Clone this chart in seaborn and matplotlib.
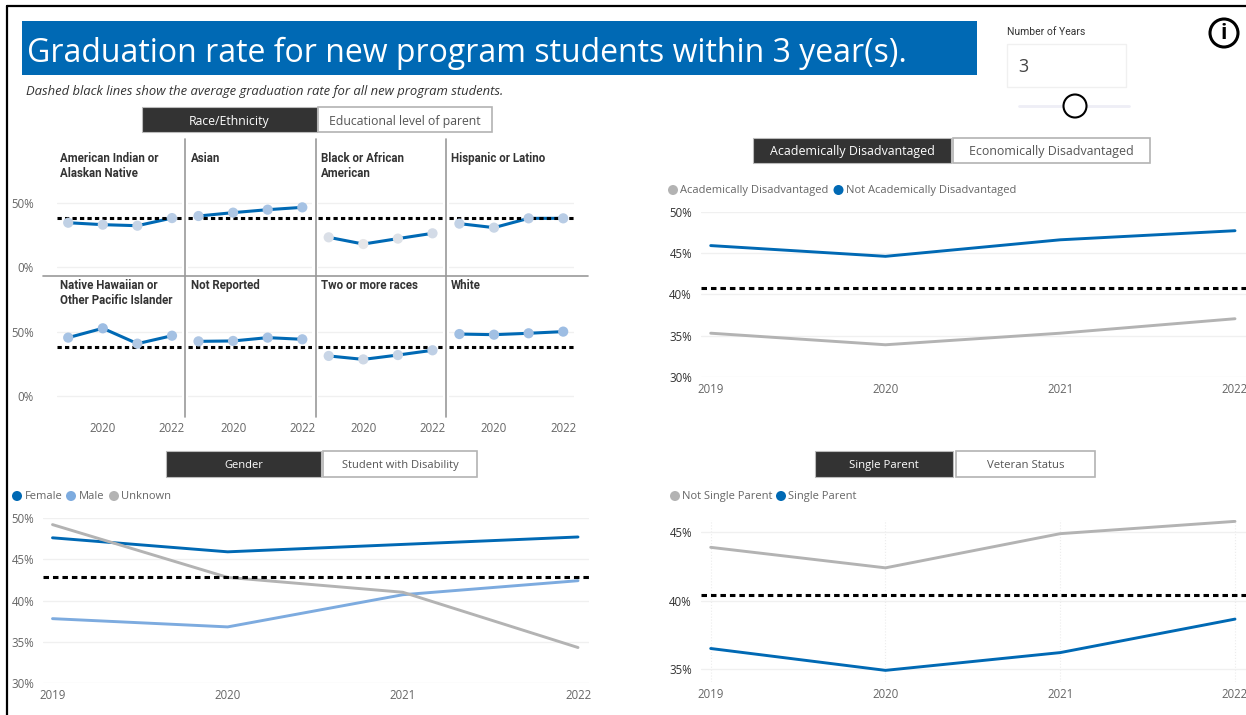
import numpy as np
import pandas as pd
import matplotlib
matplotlib.use("Agg")
import matplotlib.pyplot as plt
from matplotlib.patches import Rectangle, Circle
import seaborn as sns

W, H = 1246, 715

# Data
years = [2019, 2020, 2021, 2022]

race_names = ["American Indian or\nAlaskan Native", "Asian", "Black or African\nAmerican", "Hispanic or Latino",
              "Native Hawaiian or\nOther Pacific Islander", "Not Reported", "Two or more races", "White"]
american_indian = [34.5, 33.0, 32.2, 38.1]
asian = [39.7, 42.3, 44.6, 46.4]
black = [23.2, 18.0, 22.2, 26.3]
hispanic = [33.8, 30.7, 37.9, 37.9]
native_hawaiian = [45.6, 52.9, 40.9, 47.1]
not_reported = [42.7, 43.0, 45.6, 44.3]
two_or_more = [31.3, 28.6, 32.0, 35.7]
white = [48.4, 47.9, 49.0, 50.3]
race_avg = 38.4

not_acad = [45.9, 44.6, 46.6, 47.7]
acad = [35.3, 33.9, 35.3, 37.05]
acad_avg = 40.8

female = [47.6, 45.9, 46.8, 47.7]
male = [37.8, 36.8, 40.7, 42.4]
unknown = [49.2, 42.8, 41.0, 34.3]
gender_avg = 42.8

not_single = [43.9, 42.4, 44.9, 45.8]
single = [36.5, 34.9, 36.2, 38.65]
single_avg = 40.4

BLUE = "#0069b4"
LIGHT = "#7dabdf"
GREY = "#b3b3b3"
DARK = "#333333"
GRID = "#f0f0f0"
TICK = "#666666"

sns.set_theme(style="white")
plt.rcParams['font.family'] = ['Open Sans', 'DejaVu Sans']

fig = plt.figure(figsize=(W / 100, H / 100), dpi=100, facecolor="white")

# background layer in pixel coordinates, for the report furniture
bg = fig.add_axes([0, 0, 1, 1])
bg.set_xlim(0, W)
bg.set_ylim(H, 0)
bg.axis("off")


def add_chart(left, right, top, bottom, x0, x1, y_hi_px, y_lo_px, y_hi, y_lo):
    ax = fig.add_axes([left / W, 1 - bottom / H, (right - left) / W, (bottom - top) / H])
    ax.patch.set_alpha(0)
    per_year = (x1 - x0) / 3
    ax.set_xlim(2019 + (left - x0) / per_year, 2019 + (right - x0) / per_year)
    per_px = (y_hi - y_lo) / (y_lo_px - y_hi_px)
    ax.set_ylim(y_lo - (bottom - y_lo_px) * per_px, y_hi + (y_hi_px - top) * per_px)
    sns.despine(ax=ax, left=True, bottom=True)
    return ax


def tidy(ax, yticks, ycolor=TICK, size=8.3, pad=6.5):
    ax.set_xlabel("")
    ax.set_ylabel("")
    ax.set_xticks(years)
    ax.set_yticks(yticks)
    ax.set_yticklabels([f"{v}%" for v in yticks])
    ax.grid(axis="y", color=GRID, lw=1)
    ax.grid(axis="x", visible=False)
    ax.tick_params(axis="x", length=0, pad=4, labelsize=size, labelcolor=TICK)
    ax.tick_params(axis="y", length=0, pad=pad, labelsize=size, labelcolor=ycolor)


def line_chart(ax, series, palette, avg, yticks, ycolor=TICK):
    rows = [(n, y, v) for n, vals in series.items() for y, v in zip(years, vals)]
    df = pd.DataFrame(rows, columns=["group", "year", "rate"])
    sns.lineplot(data=df, x="year", y="rate", hue="group", palette=palette, lw=2.1,
                 legend=False, ax=ax, errorbar=None)
    ax.axhline(avg, color="black", lw=2.2, linestyle=(0, (1.8, 1.3)), zorder=3)
    tidy(ax, yticks, ycolor)


def button_pair(x0, x1, x2, x3, y0, y1, on, off, size=8.8):
    bg.add_patch(Rectangle((x0, y0), x1 - x0, y1 - y0, fc="#333333", ec="#bbbbbb", lw=0.8))
    bg.add_patch(Rectangle((x2, y0), x3 - x2, y1 - y0, fc="white", ec="#b3b3b3", lw=1.2))
    bg.text((x0 + x1) / 2, (y0 + y1) / 2 + 1.5, on, color="white", ha="center", va="center", fontsize=size)
    bg.text((x2 + x3) / 2, (y0 + y1) / 2 + 1.5, off, color="#555555", ha="center", va="center", fontsize=size)


def legend_row(items, y):
    for x, name, color in items:
        bg.add_patch(Circle((x, y), 5, fc=color, ec="none"))
        bg.text(x + 7.5, y + 0.5, name, color="#666666", ha="left", va="center", fontsize=8.05)


# frame, title banner, note
bg.plot([7, 7], [6, H], color="black", lw=1.6)
bg.plot([7, W], [6, 6], color="black", lw=1.6)
bg.add_patch(Rectangle((22, 21), 955, 54, fc=BLUE, ec="none"))
bg.text(27, 53.5, "Graduation rate for new program students within 3 year(s).", color="white",
        fontsize=23, ha="left", va="center")
bg.text(26, 91, "Dashed black lines show the average graduation rate for all new program students.",
        color="#333333", style="italic", fontsize=9.4, ha="left", va="center")

# number of years slicer and info icon
bg.text(1007, 32, "Number of Years", color="#333333", fontsize=7.5, ha="left", va="center", family="Roboto")
bg.add_patch(Rectangle((1007, 44), 119, 43, fc="white", ec="#f0f0f0", lw=1))
bg.text(1018, 67, "3", color="#444444", fontsize=13, ha="left", va="center")
bg.plot([1019, 1129], [106, 106], color="#eeeef6", lw=2)
bg.add_patch(Circle((1075, 106), 11.5, fc="white", ec="black", lw=1.5, zorder=3))
bg.add_patch(Circle((1224, 33), 14, fc="white", ec="black", lw=2.2))
bg.text(1224, 33.5, "i", color="black", fontsize=15, fontweight="bold", ha="center", va="center")

# buttons
button_pair(142, 317, 318, 492, 107, 132, "Race/Ethnicity", "Educational level of parent")
button_pair(753, 951, 953, 1150, 138, 163, "Academically Disadvantaged", "Economically Disadvantaged", 8.9)
button_pair(166, 321, 323, 477, 451, 477, "Gender", "Student with Disability", 8.0)
button_pair(815, 953, 956, 1095, 451, 477, "Single Parent", "Veteran Status", 8.2)

# race/ethnicity small multiples
race_values = [american_indian, asian, black, hispanic, native_hawaiian, not_reported, two_or_more, white]
panel_left = [57.5, 187.7, 318, 449]
point_first = [68.2, 198.5, 328.7, 459.4]
point_last = [172, 302.3, 432.5, 563.2]
title_x = [60, 191, 321, 451]
marker_cmap = sns.blend_palette(["#e6e6e8", "#9dbde3"], as_cmap=True)

for i, (name, vals) in enumerate(zip(race_names, race_values)):
    col = i % 4
    row = i // 4
    if row == 0:
        ax = add_chart(panel_left[col], panel_left[col] + 124.5, 190, 274, point_first[col], point_last[col],
                       202.7, 267.3, 50, 0)
    else:
        ax = add_chart(panel_left[col], panel_left[col] + 124.5, 320, 416, point_first[col], point_last[col],
                       332, 396, 50, 0)
    df = pd.DataFrame({"year": years, "rate": vals})
    sns.lineplot(data=df, x="year", y="rate", color=BLUE, lw=2.2, ax=ax, errorbar=None, zorder=2)
    ax.axhline(race_avg, color="black", lw=2.2, linestyle=(0, (1.4, 1.05)), zorder=3)
    sns.scatterplot(data=df, x="year", y="rate", hue="rate", palette=marker_cmap, hue_norm=(18, 50),
                    s=54, linewidth=0, legend=False, ax=ax, zorder=4, clip_on=False)
    tidy(ax, [0, 50], pad=17)
    if col > 0:
        ax.tick_params(axis="y", labelleft=False)
    if row == 1:
        ax.set_xticks([2020, 2022])
    else:
        ax.set_xticks([])
    bg.text(title_x[col], 152 + row * 127, name, color="#333333", fontsize=8.3, fontweight="bold",
            family="Roboto", ha="left", va="top", linespacing=1.2)

for x in [184.7, 315.7, 445.6]:
    bg.plot([x, x], [139, 417], color="#999999", lw=1.2)
bg.plot([43, 588], [276, 276], color="#999999", lw=1.2)

# academically disadvantaged
legend_row([(673, "Academically Disadvantaged", GREY), (838.5, "Not Academically Disadvantaged", BLUE)], 190)
ax = add_chart(701, W, 211.7, 377, 710.7, 1235, 211.7, 377, 50, 30)
line_chart(ax, {"Academically Disadvantaged": acad, "Not Academically Disadvantaged": not_acad},
           [GREY, BLUE], acad_avg, [30, 35, 40, 45, 50], ycolor=DARK)

# gender
legend_row([(17, "Female", BLUE), (71, "Male", LIGHT), (114, "Unknown", GREY)], 496)
ax = add_chart(43.5, 589, 518, 683, 52.5, 578, 518, 683, 50, 30)
line_chart(ax, {"Female": female, "Male": male, "Unknown": unknown},
           [BLUE, LIGHT, GREY], gender_avg, [30, 35, 40, 45, 50])

# single parent
legend_row([(675, "Not Single Parent", GREY), (781, "Single Parent", BLUE)], 496)
ax = add_chart(701, W, 520, 682, 710.7, 1235, 532.3, 669, 45, 35)
line_chart(ax, {"Not Single Parent": not_single, "Single Parent": single},
           [GREY, BLUE], single_avg, [35, 40, 45], ycolor=DARK)
ax.grid(axis="x", color="#ececec", lw=0.8, linestyle=":")

fig.savefig("out.png", dpi=100)
